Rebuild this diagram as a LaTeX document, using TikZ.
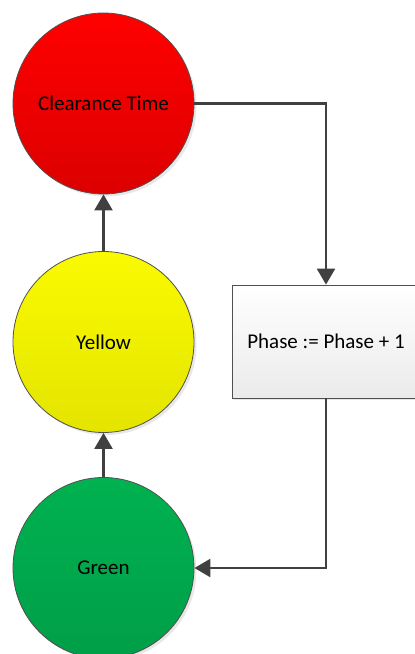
\documentclass[tikz,border=0pt]{standalone}
\usepackage{fontspec}
\setmainfont{Carlito}
\usetikzlibrary{arrows.meta,shadows}
\definecolor{linegray}{HTML}{404040}
\definecolor{edgegray}{HTML}{505050}
\tikzset{
  lamp/.style={circle, minimum size=181pt, inner sep=0pt, draw=edgegray, line width=0.8pt,
    font=\fontsize{21}{25}\selectfont,
    drop shadow={shadow xshift=2.5pt, shadow yshift=-2.5pt, fill=black!20, opacity=0.45}},
  procbox/.style={rectangle, minimum width=188pt, minimum height=113pt, inner sep=0pt,
    draw=edgegray, line width=0.8pt, top color=white, bottom color=black!8,
    font=\fontsize{21}{25}\selectfont,
    drop shadow={shadow xshift=2pt, shadow yshift=-2pt, fill=black!20, opacity=0.45}},
  flow/.style={draw=linegray, line width=2.4pt,
    -{Triangle[length=16pt,width=18pt,fill=linegray]}}
}
\begin{document}
\begin{tikzpicture}[x=1pt,y=-1pt]
\useasboundingbox (0,0) rectangle (415,654);
\node[lamp, top color={rgb,255:red,255;green,0;blue,0}, bottom color={rgb,255:red,220;green,0;blue,0}] (red) at (103.5,103.5) {Clearance Time};
\node[lamp, top color={rgb,255:red,250;green,250;blue,0}, bottom color={rgb,255:red,228;green,228;blue,0}] (yellow) at (103.5,342) {Yellow};
\node[lamp, top color={rgb,255:red,0;green,178;blue,80}, bottom color={rgb,255:red,0;green,158;blue,72}] (green) at (103.5,568) {Green};
\node[procbox] (box) at (326,341.5) {Phase := Phase + 1};
\draw[flow] (red.east) -| (box.north);
\draw[flow] (box.south) |- (green.east);
\draw[flow] (green.north) -- (yellow.south);
\draw[flow] (yellow.north) -- (red.south);
\end{tikzpicture}
\end{document}
